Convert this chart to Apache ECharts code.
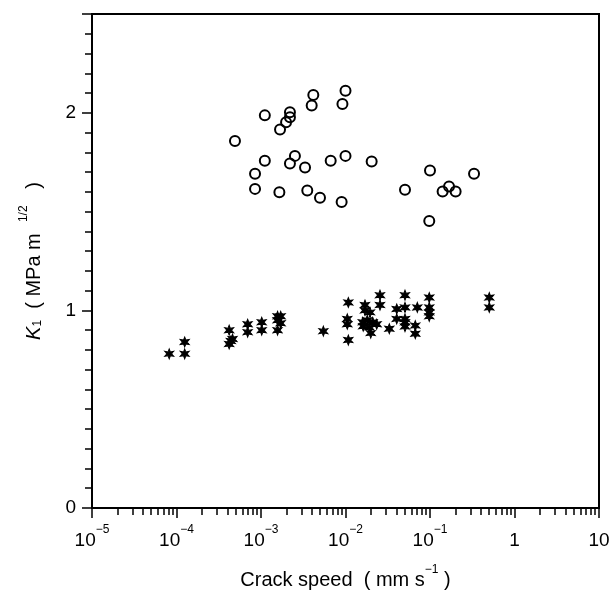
<!DOCTYPE html>
<html>
<head>
<meta charset="utf-8">
<script src="https://cdn.jsdelivr.net/npm/echarts@6/dist/echarts.min.js"></script>
<style>html,body{margin:0;padding:0;background:#fff}#c{width:614px;height:595px}</style>
</head>
<body>
<div id="c"></div>
<script>
// Open circles (upper group)
var circleX = [4.92e-4, 1.11e-3, 2.2e-3, 2.2e-3, 1.98e-3, 1.68e-3, 4.16e-3, 3.98e-3, 1.0e-2, 9.2e-3,
  1.11e-3, 2.52e-3, 2.2e-3, 3.32e-3, 6.68e-3, 1.0e-2, 2.04e-2, 8.5e-4, 8.5e-4, 1.65e-3,
  3.53e-3, 4.99e-3, 9.0e-3, 0.1, 0.332, 5.06e-2, 0.141, 0.168, 0.201, 0.098];
var circleY = [1.857, 1.987, 2.003, 1.977, 1.952, 1.915, 2.09, 2.037, 2.112, 2.045,
  1.757, 1.782, 1.743, 1.723, 1.757, 1.782, 1.753, 1.692, 1.615, 1.598,
  1.607, 1.57, 1.548, 1.708, 1.692, 1.61, 1.602, 1.627, 1.602, 1.452];
// Asterisks (lower group)
var starX = [8.2e-5, 1.25e-4, 1.25e-4, 4.2e-4, 4.2e-4, 4.4e-4, 4.6e-4, 6.95e-4, 6.95e-4, 1.02e-3,
  1.02e-3, 1.57e-3, 1.71e-3, 1.57e-3, 1.71e-3, 1.57e-3, 5.47e-3, 1.08e-2, 1.05e-2, 1.05e-2,
  1.08e-2, 2.56e-2, 2.56e-2, 1.70e-2, 1.70e-2, 1.95e-2, 1.60e-2, 1.81e-2, 2.1e-2, 2.34e-2,
  1.62e-2, 1.91e-2, 1.99e-2, 3.3e-2, 4.04e-2, 4.04e-2, 5.06e-2, 5.06e-2, 5.06e-2, 5.06e-2,
  5.06e-2, 7.08e-2, 6.7e-2, 6.7e-2, 9.8e-2, 9.8e-2, 9.8e-2, 9.8e-2, 0.503, 0.503];
var starY = [0.78, 0.78, 0.84, 0.90, 0.83, 0.845, 0.855, 0.93, 0.89, 0.94,
  0.90, 0.97, 0.97, 0.95, 0.935, 0.90, 0.895, 1.04, 0.957, 0.93,
  0.85, 1.077, 1.027, 1.027, 1.0, 0.99, 0.94, 0.95, 0.94, 0.93,
  0.92, 0.915, 0.885, 0.907, 1.007, 0.957, 1.077, 1.015, 0.957, 0.94,
  0.918, 1.015, 0.923, 0.882, 1.065, 1.015, 0.99, 0.97, 1.065, 1.015];
var yLabels = ['0', '1', '2'];
var xMin = 1e-5, xMax = 10;

function zip(a, b) { return a.map(function (v, i) { return [v, b[i]]; }); }
var minorVals = [];
for (var d = -5; d < 1; d++) for (var m = 2; m <= 9; m++) minorVals.push(Number((m * Math.pow(10, d)).toPrecision(3)));

var FONT = 'Liberation Sans';
var starPath = 'path://M0,-10L2.25,-3.9L8.66,-5L4.5,0L8.66,5L2.25,3.9L0,10L-2.25,3.9L-8.66,5L-4.5,0L-8.66,-5L-2.25,-3.9Z';

var chart = echarts.init(document.getElementById('c'), null, { renderer: 'canvas' });
chart.setOption({
  animation: false,
  backgroundColor: '#fff',
  grid: { left: 92, right: 15, top: 14, bottom: 82, show: true, borderColor: '#000', borderWidth: 2, backgroundColor: 'transparent' },
  xAxis: [{
    type: 'log', logBase: 10, min: xMin, max: xMax, position: 'bottom',
    axisLine: { lineStyle: { color: '#000', width: 2 } },
    axisTick: { length: 10, lineStyle: { color: '#000', width: 1.5 } },
    splitLine: { show: false },
    axisLabel: {
      margin: 16, color: '#000', fontFamily: FONT, fontSize: 19,
      formatter: function (v) {
        var e = Math.round(Math.log10(v));
        if (e === 0) return '{b|1}';
        if (e === 1) return '{b|10}';
        return '{b|10}{s|\u2212' + (-e) + '}';
      },
      rich: {
        b: { fontFamily: FONT, fontSize: 19, color: '#000', lineHeight: 26, verticalAlign: 'bottom' },
        s: { fontFamily: FONT, fontSize: 12, color: '#000', lineHeight: 13, verticalAlign: 'top' }
      }
    },
    name: '{t|Crack speed  ( mm s}{s|\u22121}{t| )}',
    nameLocation: 'middle', nameGap: 56,
    nameTextStyle: {
      fontFamily: FONT, color: '#000',
      rich: {
        t: { fontFamily: FONT, fontSize: 20, color: '#000', lineHeight: 26, verticalAlign: 'bottom' },
        s: { fontFamily: FONT, fontSize: 12, color: '#000', lineHeight: 13, verticalAlign: 'top' }
      }
    }
  }, {
    type: 'log', logBase: 10, min: xMin, max: xMax, position: 'bottom', offset: 0,
    axisLine: { show: false },
    axisTick: { length: 7, customValues: minorVals, lineStyle: { color: '#000', width: 1.5 } },
    axisLabel: { show: false },
    splitLine: { show: false }
  }],
  yAxis: {
    type: 'value', min: 0, max: 2.5, interval: 1,
    axisLine: { show: true, lineStyle: { color: '#000', width: 2 } },
    axisTick: { length: 10, lineStyle: { color: '#000', width: 1.5 } },
    minorTick: { show: true, splitNumber: 10, length: 7, lineStyle: { color: '#000', width: 1.5 } },
    splitLine: { show: false },
    minorSplitLine: { show: false },
    axisLabel: {
      margin: 16, color: '#000', fontFamily: FONT, fontSize: 19,
      formatter: function (v) {
        var r = Math.round(v);
        return Math.abs(v - r) < 1e-6 && yLabels.indexOf(String(r)) >= 0 ? String(r) : '';
      }
    },
    name: '{k|K}{sub|1}{t|  ( MPa m  }{sup|1/2}{t|   )}',
    nameLocation: 'middle', nameGap: 48, nameRotate: 90,
    nameTextStyle: {
      fontFamily: FONT, color: '#000',
      rich: {
        k: { fontFamily: FONT, fontStyle: 'italic', fontSize: 20, color: '#000', lineHeight: 26, verticalAlign: 'bottom' },
        t: { fontFamily: FONT, fontSize: 20, color: '#000', lineHeight: 26, verticalAlign: 'bottom' },
        sub: { fontFamily: FONT, fontSize: 12, color: '#000', lineHeight: 22, verticalAlign: 'bottom' },
        sup: { fontFamily: FONT, fontSize: 12, color: '#000', lineHeight: 13, verticalAlign: 'top' }
      }
    }
  },
  series: [{
    type: 'scatter', xAxisIndex: 0, data: zip(circleX, circleY),
    symbol: 'circle', symbolSize: 10,
    itemStyle: { color: 'rgba(0,0,0,0)', borderColor: '#000', borderWidth: 2, opacity: 1 }
  }, {
    type: 'scatter', xAxisIndex: 0, data: zip(starX, starY),
    symbol: starPath, symbolSize: [9, 10],
    itemStyle: { color: '#000', borderColor: '#000', borderWidth: 1, opacity: 1 }
  }]
});
</script>
</body>
</html>
